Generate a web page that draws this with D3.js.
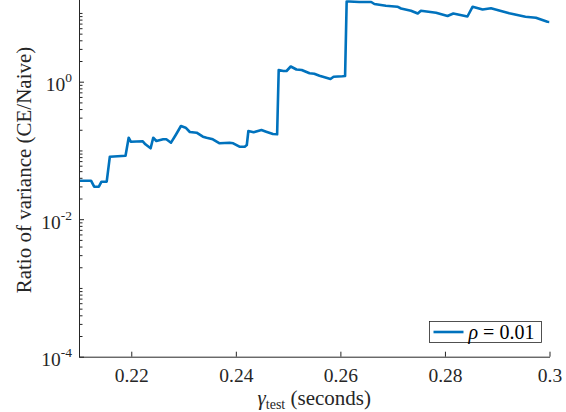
<!DOCTYPE html>
<html>
<head>
<meta charset="utf-8">
<script src="https://cdn.jsdelivr.net/npm/d3@7"></script>
<style>
  body { margin: 0; background: #fff; }
  svg { display: block; }
  svg text { font-family: "Liberation Serif", "DejaVu Serif", serif; }
</style>
</head>
<body>
<div id="container"></div>
<script>
// gamma_test (seconds) and ratio of variance
const gammaTest = [
  0.2100, 0.2123, 0.2129, 0.2138, 0.2143, 0.2153, 0.2159, 0.2189, 0.2195, 0.2199,
  0.2222, 0.2227, 0.2237, 0.2242, 0.2248, 0.2261, 0.2267, 0.2276, 0.2285, 0.2295,
  0.2304, 0.2312, 0.2325, 0.2337, 0.2344, 0.2356, 0.2369, 0.2388, 0.2395, 0.2407,
  0.2417, 0.2421, 0.2424, 0.2434, 0.2449, 0.2458, 0.2471, 0.2479, 0.2482, 0.2491,
  0.2497, 0.2505, 0.2516, 0.2526, 0.2541, 0.2550, 0.2560, 0.2573, 0.2581, 0.2587,
  0.2604, 0.2609, 0.2612, 0.2617, 0.2636, 0.2659, 0.2665, 0.2687, 0.2709, 0.2716,
  0.2735, 0.2748, 0.2754, 0.2783, 0.2805, 0.2816, 0.2843, 0.2853, 0.2872, 0.2888,
  0.2923, 0.2954, 0.2974, 0.2996, 0.3000
];
const varianceRatio = [
  0.0363, 0.0363, 0.0297, 0.0297, 0.0351, 0.0351, 0.0811, 0.0839, 0.1532, 0.1340,
  0.1358, 0.1229, 0.1075, 0.1532, 0.1372, 0.1453, 0.1453, 0.1297, 0.1678, 0.2267,
  0.2142, 0.1855, 0.1812, 0.1585, 0.1532, 0.1453, 0.1271, 0.1297, 0.1271, 0.1134,
  0.1134, 0.1201, 0.1918, 0.1837, 0.1984, 0.1874, 0.1735, 0.1717, 1.480, 1.431,
  1.431, 1.664, 1.504, 1.480, 1.325, 1.307, 1.223, 1.143, 1.095, 1.182,
  1.198, 1.210, 14.67, 14.67, 14.43, 14.43, 13.50, 12.75, 12.33, 11.61,
  10.78, 9.82, 10.75, 10.08, 9.03, 9.82, 8.88, 12.33, 11.22, 11.68,
  9.88, 8.82, 8.53, 7.46, 7.39
];
const xTicks = [0.22, 0.24, 0.26, 0.28, 0.30];
const xTickLabels = ["0.22", "0.24", "0.26", "0.28", "0.3"];
const yMajor = [1e-4, 1e-2, 1e0];
const yMajorExp = ["-4", "-2", "0"];
const legendLabel = "0.01";

const width = 566, height = 412;
const plot = { left: 79, right: 549.5, bottom: 356.7, decade: 68.75 };
const ink = "#262626";
const blue = "#0072BD";
const serif = "Liberation Serif, DejaVu Serif, serif";

const svg = d3.create("svg").attr("width", width).attr("height", height);

const x = d3.scaleLinear().domain([0.21, 0.30]).range([plot.left, plot.right]);
const y = d3.scaleLog().domain([1e-4, 1e2])
  .range([plot.bottom, plot.bottom - 6 * plot.decade]);

// minor y ticks
const yMinor = [];
for (let k = -4; k <= 1; k++) {
  for (let m = 1; m <= 9; m++) {
    const v = m * Math.pow(10, k);
    if (!yMajor.some(t => Math.abs(t - v) < 1e-12)) yMinor.push(v);
  }
}

svg.append("clipPath").attr("id", "clip")
  .append("rect").attr("x", plot.left).attr("y", 0)
  .attr("width", plot.right - plot.left).attr("height", plot.bottom);

svg.append("path")
  .datum(gammaTest.map((g, i) => [g, varianceRatio[i]]))
  .attr("clip-path", "url(#clip)")
  .attr("fill", "none")
  .attr("stroke", blue)
  .attr("stroke-width", 2.6)
  .attr("stroke-linejoin", "round")
  .attr("d", d3.line().x(d => x(d[0])).y(d => y(d[1])));

// x axis
const xAxis = svg.append("g")
  .attr("transform", `translate(0,${plot.bottom})`)
  .call(d3.axisBottom(x).tickValues(xTicks).tickSize(-5).tickSizeOuter(0)
    .tickPadding(11.5).tickFormat((d, i) => xTickLabels[i]))
  .attr("font-family", serif).attr("font-size", 19.5);
xAxis.select(".domain").attr("stroke", ink).attr("stroke-width", 1);
xAxis.selectAll(".tick line").attr("stroke", ink).attr("stroke-width", 1);
xAxis.selectAll(".tick text").attr("fill", ink);

// y axis, minor ticks
const yMinorAxis = svg.append("g")
  .attr("transform", `translate(${plot.left},0)`)
  .call(d3.axisLeft(y).tickValues(yMinor.filter(v => y(v) > 0)).tickSize(-3.5).tickFormat(""));
yMinorAxis.select(".domain").remove();
yMinorAxis.selectAll(".tick line").attr("stroke", ink).attr("stroke-width", 1);

// y axis, major ticks
const yAxis = svg.append("g")
  .attr("transform", `translate(${plot.left},0)`)
  .call(d3.axisLeft(y).tickValues(yMajor).tickSize(-5).tickSizeOuter(0).tickFormat(""))
  .attr("font-family", serif);
yAxis.select(".domain").attr("stroke", ink).attr("stroke-width", 1);
yAxis.selectAll(".tick line").attr("stroke", ink).attr("stroke-width", 1);
yAxis.selectAll(".tick").each(function (d, i) {
  const t = d3.select(this).append("text")
    .attr("x", -7).attr("y", 9)
    .attr("text-anchor", "end")
    .attr("fill", ink)
    .style("font-size", "19.5px");
  t.append("tspan").text("10");
  t.append("tspan").attr("dy", -9).style("font-size", "13.5px").text(yMajorExp[i]);
});

// axis labels
const xl = svg.append("text")
  .attr("x", (plot.left + plot.right) / 2).attr("y", 405)
  .attr("text-anchor", "middle").attr("fill", ink).style("font-size", "21px");
xl.append("tspan").style("font-style", "italic").text("γ");
xl.append("tspan").attr("dy", 4).style("font-size", "14px").text("test");
xl.append("tspan").attr("dy", -4).text("  (seconds)");

svg.append("text")
  .attr("transform", "translate(31,170) rotate(-90)")
  .attr("text-anchor", "middle").attr("fill", ink).style("font-size", "21px")
  .text("Ratio of variance (CE/Naive)");

// legend
const lg = svg.append("g").attr("transform", "translate(429.5,321.5)");
lg.append("rect").attr("width", 112).attr("height", 21)
  .attr("fill", "#fff").attr("stroke", ink).attr("stroke-width", 0.8);
lg.append("line").attr("x1", 4).attr("x2", 34).attr("y1", 10.5).attr("y2", 10.5)
  .attr("stroke", blue).attr("stroke-width", 2.6);
const lt = lg.append("text").attr("x", 39).attr("y", 17).attr("fill", "#000")
  .style("font-size", "20px");
lt.append("tspan").style("font-style", "italic").text("ρ");
lt.append("tspan").text(" = " + legendLabel);

document.querySelector("#container").appendChild(svg.node());
</script>
</body>
</html>
